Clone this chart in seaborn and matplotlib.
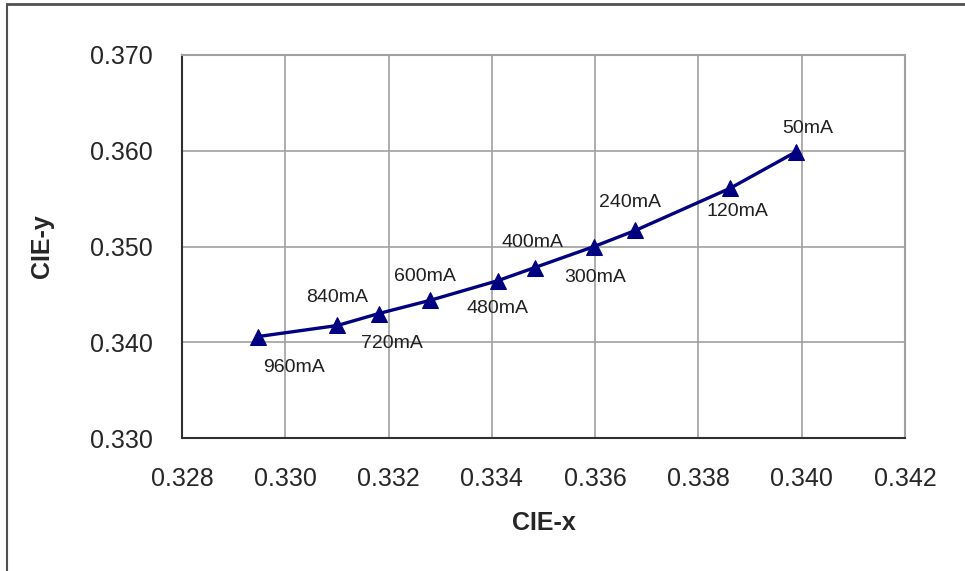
import matplotlib
matplotlib.use("Agg")
import matplotlib.pyplot as plt
from matplotlib.lines import Line2D
import seaborn as sns
import pandas as pd

currents = ["960mA", "840mA", "720mA", "600mA", "480mA", "400mA", "300mA", "240mA", "120mA", "50mA"]
cie_x = [0.32948, 0.33101, 0.33181, 0.33280, 0.33412, 0.33483, 0.33598, 0.33678, 0.33862, 0.33988]
cie_y = [0.34060, 0.34175, 0.34300, 0.34437, 0.34644, 0.34780, 0.35000, 0.35168, 0.35610, 0.35986]
x_ticks = [0.328, 0.330, 0.332, 0.334, 0.336, 0.338, 0.340, 0.342]
y_ticks = [0.330, 0.340, 0.350, 0.360, 0.370]

# label offsets in pixels (dx, dy; dy positive = up)
label_offsets = {
    "960mA": (36, -31), "840mA": (0, 28), "720mA": (13, -30), "600mA": (-5, 24),
    "480mA": (-1, -28), "400mA": (-2, 25), "300mA": (1, -31), "240mA": (-5, 28),
    "120mA": (7, -23), "50mA": (12, 24),
}

sns.set_style("white")
plt.rcParams["font.family"] = ["Liberation Sans", "DejaVu Sans"]

df = pd.DataFrame({"CIE-x": cie_x, "CIE-y": cie_y, "I": currents})

fig = plt.figure(figsize=(9.65, 5.71), dpi=100)
ax = fig.add_axes([182/965, 1-438/571, (905-182)/965, (438-55)/571])

sns.lineplot(data=df, x="CIE-x", y="CIE-y", sort=False, ax=ax, color="#000080",
             linewidth=2.4, marker="^", markersize=11, markeredgecolor="#000080",
             markerfacecolor="#000080", zorder=3)

ax.set_xlim(0.328, 0.342)
ax.set_ylim(0.330, 0.370)
ax.set_xticks(x_ticks)
ax.set_yticks(y_ticks)
ax.set_xticklabels([f"{v:.3f}" for v in x_ticks], fontsize=18)
ax.set_yticklabels([f"{v:.3f}" for v in y_ticks], fontsize=18)
ax.tick_params(axis="both", direction="in", length=6, width=1, color="#404040")
ax.tick_params(axis="x", pad=21)
ax.tick_params(axis="y", pad=21)
ax.grid(True, color="#a0a0a0", linewidth=1.2)
ax.set_axisbelow(True)

for side in ["top", "right"]:
    ax.spines[side].set_color("#a0a0a0")
    ax.spines[side].set_linewidth(1.5)
for side in ["left", "bottom"]:
    ax.spines[side].set_color("#303030")
    ax.spines[side].set_linewidth(1.5)

ax.set_xlabel("CIE-x", fontsize=18, fontweight="bold", labelpad=14)
ax.set_ylabel("CIE-y", fontsize=18, fontweight="bold", labelpad=26)

for lab, xv, yv in zip(currents, cie_x, cie_y):
    dx, dy = label_offsets[lab]
    ax.annotate(lab, (xv, yv), xytext=(dx * 0.72, dy * 0.72), textcoords="offset points",
                ha="center", va="center", fontsize=14, color="#202020")

# screenshot frame edges
fig.add_artist(Line2D([7/965, 1], [1-3.5/571, 1-3.5/571], color="#505050", linewidth=2,
                      transform=fig.transFigure))
fig.add_artist(Line2D([7/965, 7/965], [0, 1-3.5/571], color="#505050", linewidth=1.5,
                      transform=fig.transFigure))

fig.savefig("out.png", dpi=100)
